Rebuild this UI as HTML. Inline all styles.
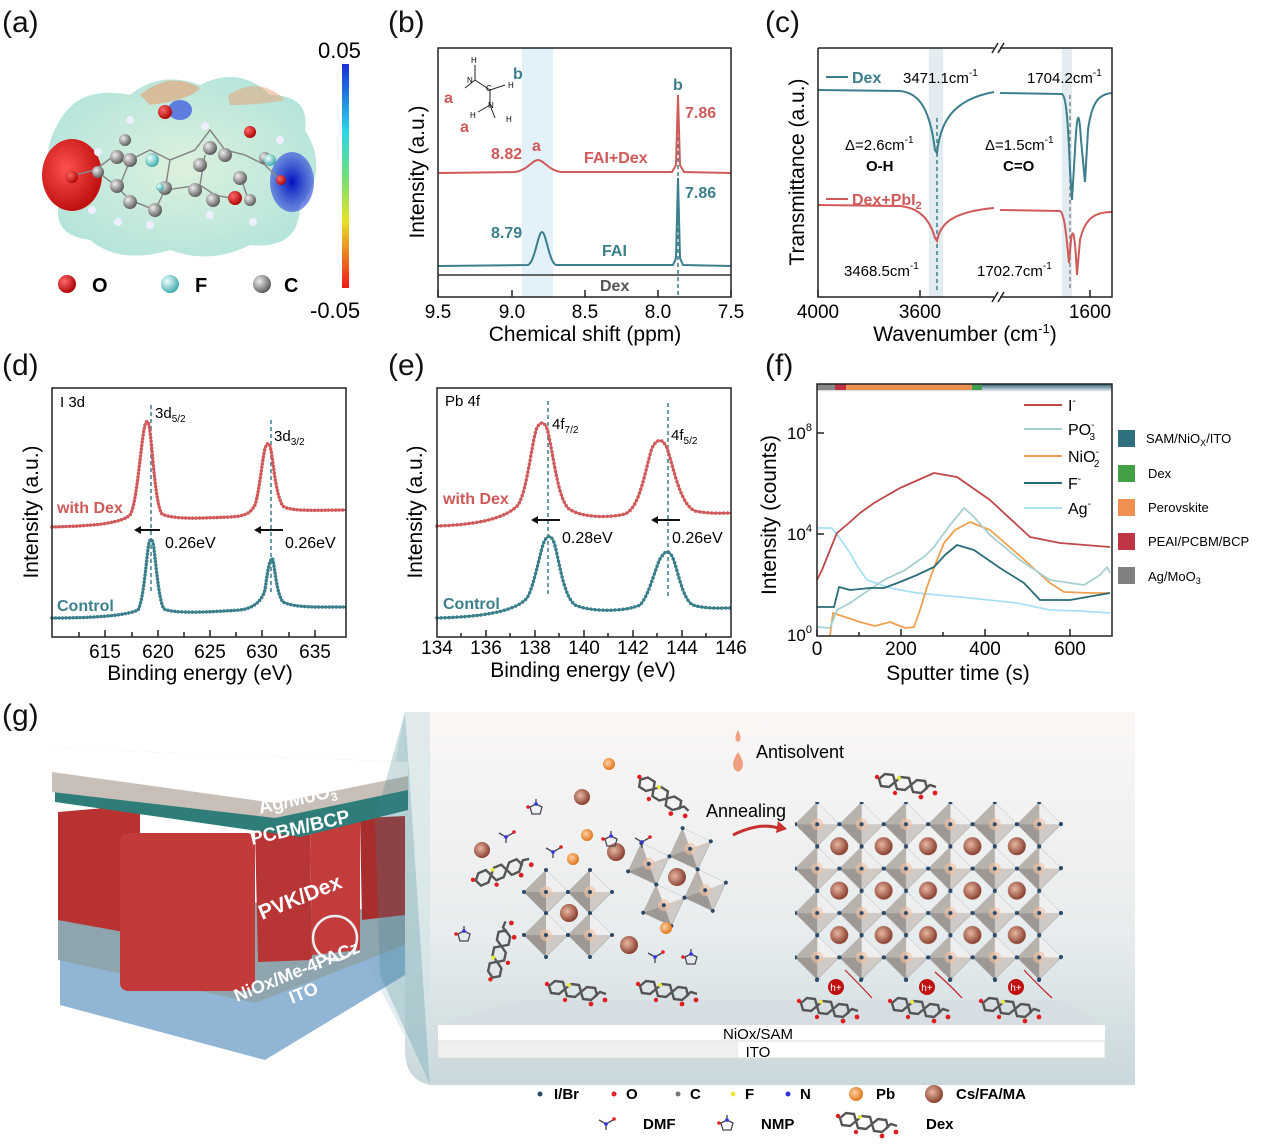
<!DOCTYPE html>
<html><head><meta charset="utf-8"><style>
html,body{margin:0;padding:0;background:#fff}
svg{display:block;font-family:"Liberation Sans",sans-serif}
</style></head><body>
<svg width="1266" height="1147" viewBox="0 0 1266 1147" xmlns="http://www.w3.org/2000/svg" xmlns:xlink="http://www.w3.org/1999/xlink">
<defs>
<linearGradient id="cb" x1="0" y1="0" x2="0" y2="1">
<stop offset="0" stop-color="#1a2fd8"/><stop offset="0.3" stop-color="#2ad6e8"/><stop offset="0.5" stop-color="#6fe07a"/><stop offset="0.7" stop-color="#e7e22a"/><stop offset="1" stop-color="#f11a1a"/></linearGradient>
<radialGradient id="blob" cx="0.5" cy="0.5" r="0.6"><stop offset="0" stop-color="#d9f0d8"/><stop offset="1" stop-color="#a9e0d8"/></radialGradient>
<radialGradient id="redl" cx="0.4" cy="0.4" r="0.6"><stop offset="0" stop-color="#ff5050"/><stop offset="1" stop-color="#c01010"/></radialGradient>
<radialGradient id="bluel" cx="0.5" cy="0.5" r="0.6"><stop offset="0" stop-color="#0010c0"/><stop offset="1" stop-color="#4a6ae0" stop-opacity="0.6"/></radialGradient>
<radialGradient id="ball" cx="0.35" cy="0.35" r="0.7"><stop offset="0" stop-color="#eee"/><stop offset="1" stop-color="#555"/></radialGradient>
<radialGradient id="rball" cx="0.35" cy="0.35" r="0.7"><stop offset="0" stop-color="#ff6a6a"/><stop offset="1" stop-color="#a00"/></radialGradient>
<radialGradient id="fball" cx="0.35" cy="0.35" r="0.7"><stop offset="0" stop-color="#f0ffff"/><stop offset="1" stop-color="#3aa8a8"/></radialGradient>
<radialGradient id="cs" cx="0.4" cy="0.4" r="0.6"><stop offset="0" stop-color="#e8b8a0"/><stop offset="1" stop-color="#8a4030"/></radialGradient>
<radialGradient id="pb" cx="0.4" cy="0.4" r="0.6"><stop offset="0" stop-color="#ffd0a0"/><stop offset="1" stop-color="#e07820"/></radialGradient>
<linearGradient id="bg" x1="0" y1="0" x2="0" y2="1"><stop offset="0" stop-color="#fbf7f5"/><stop offset="0.6" stop-color="#e7ecee"/><stop offset="1" stop-color="#c8d8dc"/></linearGradient>
<linearGradient id="topbar" x1="0" y1="0" x2="0" y2="1"><stop offset="0" stop-color="#2a5d6e"/><stop offset="1" stop-color="#fff"/></linearGradient>
<g id="oct">
<path d="M0,-22 L22,0 L0,22 L-22,0Z" fill="#cfcac6" stroke="#aaa" stroke-width="0.6"/>
<path d="M0,-22 L22,0 L0,0Z" fill="#efefef"/><path d="M0,0 L-22,0 L0,22Z" fill="#9d9894"/><path d="M0,-22 L-22,0 L0,0Z" fill="#b8b2ad"/>
<circle r="6" fill="#f0c0a0" opacity="0.6"/>
<circle cx="0" cy="-22" r="2" fill="#2a4a6a"/><circle cx="-22" cy="0" r="2" fill="#2a4a6a"/><circle cx="22" cy="0" r="2" fill="#2a4a6a"/><circle cx="0" cy="22" r="2" fill="#2a4a6a"/><circle r="2" fill="#2a4a6a"/>
</g>
<g id="dex" fill="none" stroke="#555" stroke-width="2.4">
<path d="M-28,-4 l6,-5 l8,1 l2,7 l-6,5 l-8,-1z M-12,-1 l6,-5 l8,1 l2,7 l-6,5 l-8,-1z M4,2 l6,-5 l8,1 l2,7 l-6,5 l-8,-1z M18,6 l5,-4 l6,2"/>
<circle cx="-8" cy="-5" r="2" fill="#e8e840" stroke="none"/><circle cx="-30" cy="-6" r="2.2" fill="#e02020" stroke="none"/><circle cx="28" cy="10" r="2.4" fill="#e02020" stroke="none"/><circle cx="14" cy="14" r="2.4" fill="#e02020" stroke="none"/><circle cx="-12" cy="10" r="2.2" fill="#e02020" stroke="none"/>
</g>
<g id="dmf" fill="none" stroke="#445" stroke-width="1.3"><path d="M-7,-2 l7,4 l7,-4 m-7,4 v6"/><circle cx="8" cy="-3" r="1.8" fill="#e02020" stroke="none"/><circle cx="0" cy="2" r="1.8" fill="#3030e0" stroke="none"/></g>
<g id="nmp" fill="none" stroke="#445" stroke-width="1.3"><path d="M-5,-3 l6,-3 l6,3 l-2,7 l-8,0z M1,-6 v-5"/><circle cx="-7" cy="-3" r="1.8" fill="#e02020" stroke="none"/><circle cx="1" cy="-6" r="1.8" fill="#3030e0" stroke="none"/></g>
<pattern id="octp" x="795" y="802" width="44.4" height="44.4" patternUnits="userSpaceOnUse"><use xlink:href="#oct" href="#oct" x="22.2" y="22.2"/></pattern>
<pattern id="csp" x="817" y="824" width="44.4" height="44.4" patternUnits="userSpaceOnUse"><circle cx="22.2" cy="22.2" r="9" fill="url(#cs)"/></pattern>
</defs>

<!-- panel labels -->
<g font-size="30" fill="#111">
<text x="2" y="32">(a)</text><text x="388" y="32">(b)</text><text x="765" y="32">(c)</text>
<text x="2" y="375">(d)</text><text x="388" y="375">(e)</text><text x="765" y="375">(f)</text>
<text x="2" y="725">(g)</text></g>

<!-- (a) -->
<g>
<path d="M60,120 Q80,85 130,95 Q160,70 200,85 Q240,65 270,95 Q310,95 305,130 Q330,170 300,205 Q300,250 250,245 Q210,265 170,250 Q120,265 90,240 Q50,235 60,200 Q35,160 60,120Z" fill="url(#blob)" opacity="0.9"/>
<path d="M140,95 Q170,70 200,88 Q190,100 150,105Z" fill="#e8a070" opacity="0.6"/>
<path d="M228,95 Q260,75 285,100 Q260,105 230,105Z" fill="#e8a070" opacity="0.5"/>
<ellipse cx="72" cy="175" rx="30" ry="36" fill="url(#redl)"/>
<ellipse cx="292" cy="182" rx="22" ry="30" fill="url(#bluel)"/>
<ellipse cx="180" cy="110" rx="12" ry="10" fill="#3050e0" opacity="0.7"/>
<g stroke="#888" stroke-width="1.5" fill="none"><path d="M75,175 L95,170 L115,155 L130,160 L150,150 L170,160 L195,150 L210,130 L225,150 L245,155 L265,165 L280,180 M95,170 L115,185 L130,200 L155,210 L165,190 L200,185 L215,195 L240,200 M130,160 L120,185 M170,160 L165,190 M200,185 L205,155 M240,175 L250,205"/></g>
<g fill="url(#ball)">
<circle cx="98" cy="172" r="6"/><circle cx="117" cy="157" r="7"/><circle cx="130" cy="160" r="7"/><circle cx="117" cy="186" r="7"/><circle cx="130" cy="202" r="7"/><circle cx="155" cy="210" r="7"/><circle cx="165" cy="188" r="7"/><circle cx="200" cy="165" r="7"/><circle cx="195" cy="190" r="7"/><circle cx="210" cy="148" r="7"/><circle cx="225" cy="155" r="7"/><circle cx="240" cy="178" r="7"/><circle cx="213" cy="200" r="7"/><circle cx="250" cy="200" r="6"/><circle cx="265" cy="158" r="6"/><circle cx="125" cy="140" r="6"/></g>
<g fill="url(#fball)"><circle cx="152" cy="160" r="7"/><circle cx="270" cy="160" r="6"/><circle cx="160" cy="187" r="4"/></g>
<g fill="#eef"><circle cx="98" cy="152" r="4"/><circle cx="130" cy="120" r="4"/><circle cx="118" cy="222" r="4"/><circle cx="150" cy="225" r="4"/><circle cx="205" cy="126" r="4"/><circle cx="210" cy="215" r="4"/><circle cx="253" cy="222" r="4"/><circle cx="92" cy="210" r="4"/><circle cx="280" cy="140" r="4"/></g>
<g fill="url(#rball)"><circle cx="72" cy="177" r="6"/><circle cx="165" cy="112" r="7"/><circle cx="250" cy="132" r="6"/><circle cx="235" cy="198" r="7"/><circle cx="281" cy="180" r="5"/></g>
<rect x="342" y="64" width="7" height="224" fill="url(#cb)"/>
<text x="318" y="58" font-size="22">0.05</text>
<text x="310" y="318" font-size="22">-0.05</text>
<circle cx="67" cy="284" r="9" fill="url(#rball)"/><text x="92" y="292" font-size="20" font-weight="bold">O</text>
<circle cx="170" cy="284" r="9" fill="url(#fball)"/><text x="195" y="292" font-size="20" font-weight="bold">F</text>
<circle cx="262" cy="284" r="9" fill="url(#ball)"/><text x="284" y="292" font-size="20" font-weight="bold">C</text>
</g>

<!-- (b) -->
<g>
<rect x="522" y="48" width="31" height="249" fill="#e3f1fb"/>
<line x1="678" y1="95" x2="678" y2="297" stroke="#3b7f8c" stroke-width="1.5" stroke-dasharray="4,3"/>
<path d="M438,173 L515,172 C528,170 532,160 538,160 C544,160 548,170 561,172 L672,172 L676,165 L678,95 L680,165 L684,172 L731,173" fill="none" stroke="#d05a5a" stroke-width="2"/>
<path d="M438,266 L528,265 C535,262 538,232 542,232 C546,232 549,262 556,265 L673,265 L676,258 L678,178 L680,258 L683,265 L731,266" fill="none" stroke="#3b7f8c" stroke-width="2"/>
<line x1="438" y1="275" x2="731" y2="275" stroke="#666" stroke-width="2"/>
<rect x="438" y="48" width="293" height="249" fill="none" stroke="#222" stroke-width="1.5"/>
<g stroke="#222" stroke-width="1.5"><line x1="438" y1="297" x2="438" y2="290"/><line x1="512" y1="297" x2="512" y2="290"/><line x1="585" y1="297" x2="585" y2="290"/><line x1="658" y1="297" x2="658" y2="290"/><line x1="731" y1="297" x2="731" y2="290"/></g>
<g font-size="19" text-anchor="middle"><text x="438" y="318">9.5</text><text x="512" y="318">9.0</text><text x="585" y="318">8.5</text><text x="658" y="318">8.0</text><text x="731" y="318">7.5</text>
<text x="585" y="341" font-size="21">Chemical shift (ppm)</text></g>
<text transform="translate(424,172) rotate(-90)" font-size="21" text-anchor="middle">Intensity (a.u.)</text>
<g font-size="16" font-weight="bold"><text x="685" y="118" fill="#d05a5a">7.86</text><text x="685" y="198" fill="#3b7f8c">7.86</text>
<text x="491" y="159" fill="#d05a5a">8.82</text><text x="532" y="151" fill="#d05a5a">a</text><text x="584" y="163" fill="#d05a5a">FAI+Dex</text>
<text x="491" y="238" fill="#3b7f8c">8.79</text><text x="602" y="256" fill="#3b7f8c">FAI</text><text x="600" y="291" fill="#555">Dex</text>
<text x="673" y="90" fill="#3b7f8c">b</text><text x="444" y="103" fill="#d05a5a">a</text><text x="460" y="132" fill="#d05a5a">a</text><text x="513" y="79" fill="#3b7f8c">b</text></g>
<g stroke="#222" stroke-width="1" fill="none"><path d="M475,65 L475,80 L490,90 L505,85 M490,90 L490,105 L495,118 M490,105 L478,112 M475,80 L465,88"/></g>
<g font-size="8"><text x="471" y="63">H</text><text x="467" y="83">N</text><text x="486" y="91">C</text><text x="488" y="108">N</text><text x="470" y="118">H</text><text x="506" y="122">H</text><text x="508" y="88">H</text></g>
</g>

<!-- (c) -->
<g>
<rect x="929" y="48" width="14" height="249" fill="#e3ecf0"/>
<rect x="1062" y="48" width="10" height="249" fill="#e3ecf0"/>
<line x1="937" y1="118" x2="937" y2="290" stroke="#3b7f8c" stroke-width="1.5" stroke-dasharray="4,3"/>
<line x1="1070" y1="95" x2="1070" y2="290" stroke="#888" stroke-width="1.5" stroke-dasharray="4,3"/>
<path d="M818,90 L900,91 C920,93 930,110 935,150 L937,153 C940,125 950,100 994,92 M1000,93 L1062,94 C1066,96 1068,120 1070,170 L1072,200 L1075,150 C1077,110 1079,108 1081,140 L1085,182 L1088,130 C1092,100 1100,94 1112,93" fill="none" stroke="#3b7f8c" stroke-width="2"/>
<path d="M818,205 L900,206 C920,208 930,220 935,238 L937,241 C940,225 950,212 994,208 M1000,210 L1060,211 C1064,213 1066,230 1069,263 L1071,240 C1073,225 1075,235 1077,275 L1080,240 C1085,218 1095,212 1112,212" fill="none" stroke="#d05a5a" stroke-width="2"/>
<path d="M818,48 V297 H994 M1000,297 H1112 V48 H1000 M994,48 H818" fill="none" stroke="#222" stroke-width="1.5"/>
<g stroke="#222" stroke-width="1.5"><line x1="992" y1="302" x2="998" y2="292"/><line x1="998" y1="302" x2="1004" y2="292"/><line x1="992" y1="53" x2="998" y2="43"/><line x1="998" y1="53" x2="1004" y2="43"/>
<line x1="818" y1="297" x2="818" y2="290"/><line x1="920" y1="297" x2="920" y2="290"/><line x1="1090" y1="297" x2="1090" y2="290"/></g>
<g font-size="19" text-anchor="middle"><text x="818" y="318">4000</text><text x="920" y="318">3600</text><text x="1090" y="318">1600</text>
<text x="965" y="341" font-size="21">Wavenumber (cm<tspan font-size="13" dy="-8">-1</tspan><tspan dy="8">)</tspan></text></g>
<text transform="translate(804,172) rotate(-90)" font-size="21" text-anchor="middle">Transmittance (a.u.)</text>
<line x1="826" y1="77" x2="848" y2="77" stroke="#3b7f8c" stroke-width="2"/><text x="852" y="83" font-size="16" font-weight="bold" fill="#3b7f8c">Dex</text>
<line x1="826" y1="199" x2="848" y2="199" stroke="#d05a5a" stroke-width="2"/><text x="852" y="205" font-size="16" font-weight="bold" fill="#d05a5a">Dex+PbI<tspan font-size="11" dy="4">2</tspan></text>
<g font-size="15"><text x="903" y="83">3471.1cm<tspan font-size="10" dy="-7">-1</tspan></text>
<text x="1027" y="83">1704.2cm<tspan font-size="10" dy="-7">-1</tspan></text>
<text x="845" y="150">Δ=2.6cm<tspan font-size="10" dy="-7">-1</tspan></text><text x="866" y="171" font-weight="bold">O-H</text>
<text x="985" y="150">Δ=1.5cm<tspan font-size="10" dy="-7">-1</tspan></text><text x="1003" y="171" font-weight="bold">C=O</text>
<text x="844" y="276">3468.5cm<tspan font-size="10" dy="-7">-1</tspan></text>
<text x="977" y="276">1702.7cm<tspan font-size="10" dy="-7">-1</tspan></text></g>
</g>

<!-- (d) -->
<g>
<line x1="151" y1="405" x2="151" y2="592" stroke="#3b7f8c" stroke-width="1.5" stroke-dasharray="4,3"/>
<line x1="271" y1="420" x2="271" y2="592" stroke="#3b7f8c" stroke-width="1.5" stroke-dasharray="4,3"/>
<g fill="none" stroke="#d05a5a"><path d="M52,527 C90,526 120,524 130,515 C137,505 141,440 145,425 Q147,418 149,425 C152,440 155,505 162,514 C175,520 200,518 230,517 C245,516 250,514 255,505 C260,490 263,450 266,446 Q268,441 270,446 C273,455 275,495 283,506 C290,512 320,510 346,510" stroke-width="2"/>
<path d="M52,527 C90,526 120,524 130,515 C137,505 141,440 145,425 Q147,418 149,425 C152,440 155,505 162,514 C175,520 200,518 230,517 C245,516 250,514 255,505 C260,490 263,450 266,446 Q268,441 270,446 C273,455 275,495 283,506 C290,512 320,510 346,510" stroke-width="3.5" stroke-dasharray="0 3.5" stroke-linecap="round"/></g>
<g fill="none" stroke="#3b7f8c"><path d="M52,618 C90,618 125,616 138,610 C144,600 147,550 149,543 Q151,536 153,543 C155,550 158,600 164,609 C175,614 210,612 240,610 C255,608 262,600 265,590 C267,575 269,562 271,560 Q272,557 273,560 C275,570 277,595 283,602 C295,608 320,607 346,607" stroke-width="2"/>
<path d="M52,618 C90,618 125,616 138,610 C144,600 147,550 149,543 Q151,536 153,543 C155,550 158,600 164,609 C175,614 210,612 240,610 C255,608 262,600 265,590 C267,575 269,562 271,560 Q272,557 273,560 C275,570 277,595 283,602 C295,608 320,607 346,607" stroke-width="3.5" stroke-dasharray="0 3.5" stroke-linecap="round"/></g>
<rect x="52" y="388" width="294" height="249" fill="none" stroke="#222" stroke-width="1.5"/>
<g stroke="#222" stroke-width="1.5"><line x1="79" y1="637" x2="79" y2="632"/><line x1="105" y1="637" x2="105" y2="630"/><line x1="132" y1="637" x2="132" y2="632"/><line x1="158" y1="637" x2="158" y2="630"/><line x1="184" y1="637" x2="184" y2="632"/><line x1="210" y1="637" x2="210" y2="630"/><line x1="236" y1="637" x2="236" y2="632"/><line x1="262" y1="637" x2="262" y2="630"/><line x1="289" y1="637" x2="289" y2="632"/><line x1="315" y1="637" x2="315" y2="630"/></g>
<g font-size="19" text-anchor="middle"><text x="105" y="658">615</text><text x="158" y="658">620</text><text x="210" y="658">625</text><text x="262" y="658">630</text><text x="315" y="658">635</text>
<text x="200" y="680" font-size="21">Binding energy (eV)</text></g>
<text transform="translate(38,512) rotate(-90)" font-size="21" text-anchor="middle">Intensity (a.u.)</text>
<text x="60" y="407" font-size="15">I 3d</text>
<text x="155" y="418" font-size="15">3d<tspan font-size="10" dy="4">5/2</tspan></text>
<text x="274" y="441" font-size="15">3d<tspan font-size="10" dy="4">3/2</tspan></text>
<g font-size="16" font-weight="bold"><text x="57" y="513" fill="#d05a5a">with Dex</text><text x="57" y="611" fill="#3b7f8c">Control</text></g>
<g stroke="#111" stroke-width="2"><line x1="138" y1="530" x2="160" y2="530"/><line x1="258" y1="530" x2="283" y2="530"/></g>
<path d="M134,530 l7,-4 v8z M254,530 l7,-4 v8z" fill="#111"/>
<g font-size="16"><text x="165" y="548">0.26eV</text><text x="285" y="548">0.26eV</text></g>
</g>

<!-- (e) -->
<g>
<line x1="548" y1="401" x2="548" y2="595" stroke="#3b7f8c" stroke-width="1.5" stroke-dasharray="4,3"/>
<line x1="668" y1="403" x2="668" y2="598" stroke="#3b7f8c" stroke-width="1.5" stroke-dasharray="4,3"/>
<g fill="none" stroke="#d05a5a"><path d="M437,526 C470,525 505,520 518,505 C528,490 533,430 538,426 Q542,420 546,426 C552,440 556,495 568,508 C580,518 610,518 625,514 C640,508 645,470 652,448 Q660,433 667,448 C673,465 680,505 695,511 C710,514 720,513 731,513" stroke-width="2"/>
<path d="M437,526 C470,525 505,520 518,505 C528,490 533,430 538,426 Q542,420 546,426 C552,440 556,495 568,508 C580,518 610,518 625,514 C640,508 645,470 652,448 Q660,433 667,448 C673,465 680,505 695,511 C710,514 720,513 731,513" stroke-width="3.5" stroke-dasharray="0 4" stroke-linecap="round"/></g>
<g fill="none" stroke="#3b7f8c"><path d="M437,618 C480,617 515,612 527,598 C535,585 541,545 545,540 Q549,533 553,540 C558,550 562,595 575,605 C590,612 625,612 640,605 C650,595 657,560 662,556 Q667,548 672,556 C677,565 682,600 693,605 C705,609 720,608 731,608" stroke-width="2"/>
<path d="M437,618 C480,617 515,612 527,598 C535,585 541,545 545,540 Q549,533 553,540 C558,550 562,595 575,605 C590,612 625,612 640,605 C650,595 657,560 662,556 Q667,548 672,556 C677,565 682,600 693,605 C705,609 720,608 731,608" stroke-width="3.5" stroke-dasharray="0 4" stroke-linecap="round"/></g>
<rect x="437" y="388" width="294" height="249" fill="none" stroke="#222" stroke-width="1.5"/>
<g stroke="#222" stroke-width="1.5"><line x1="486" y1="637" x2="486" y2="630"/><line x1="535" y1="637" x2="535" y2="630"/><line x1="584" y1="637" x2="584" y2="630"/><line x1="633" y1="637" x2="633" y2="630"/><line x1="682" y1="637" x2="682" y2="630"/><line x1="461" y1="637" x2="461" y2="633"/><line x1="510" y1="637" x2="510" y2="633"/><line x1="559" y1="637" x2="559" y2="633"/><line x1="608" y1="637" x2="608" y2="633"/><line x1="657" y1="637" x2="657" y2="633"/><line x1="706" y1="637" x2="706" y2="633"/></g>
<g font-size="19" text-anchor="middle"><text x="437" y="654">134</text><text x="486" y="654">136</text><text x="535" y="654">138</text><text x="584" y="654">140</text><text x="633" y="654">142</text><text x="682" y="654">144</text><text x="731" y="654">146</text></g>
<text x="583" y="677" font-size="21" text-anchor="middle">Binding energy (eV)</text>
<text transform="translate(422,512) rotate(-90)" font-size="21" text-anchor="middle">Intensity (a.u.)</text>
<text x="445" y="406" font-size="15">Pb 4f</text>
<text x="552" y="429" font-size="15">4f<tspan font-size="10" dy="4">7/2</tspan></text>
<text x="671" y="440" font-size="15">4f<tspan font-size="10" dy="4">5/2</tspan></text>
<g font-size="16" font-weight="bold"><text x="443" y="504" fill="#d05a5a">with Dex</text><text x="443" y="609" fill="#3b7f8c">Control</text></g>
<g stroke="#111" stroke-width="2"><line x1="535" y1="520" x2="560" y2="520"/><line x1="655" y1="520" x2="680" y2="520"/></g>
<path d="M531,520 l7,-4 v8z M651,520 l7,-4 v8z" fill="#111"/>
<g font-size="16"><text x="562" y="543">0.28eV</text><text x="672" y="543">0.26eV</text></g>
</g>

<!-- (f) -->
<g>
<rect x="817" y="384" width="295" height="8" fill="url(#topbar)"/>
<rect x="817" y="384" width="18" height="6" fill="#888"/><rect x="835" y="384" width="11" height="6" fill="#c03040"/><rect x="846" y="384" width="126" height="6" fill="#f09050"/><rect x="972" y="384" width="10" height="6" fill="#40a050"/>
<g fill="none" stroke-width="1.8" stroke-linejoin="round">
<path d="M817,528 L832,528 L841,540 L850,553 L858,567 L867,580 L890,588 L917,593 L960,597 L1017,603 L1050,610 L1080,611 L1110,613" stroke="#a8e0f8"/>
<path d="M830,636 L833,613 L845,617 L860,622 L875,626 L890,622 L905,628 L914,627 L920,610 L927,587 L935,565 L944,543 L955,530 L970,522 L990,530 L1020,556 L1050,583 L1064,592 L1090,593 L1110,593" stroke="#f0a050"/>
<path d="M817,627 L830,628 L837,610 L850,603 L866,592 L884,580 L905,570 L925,556 L934,547 L950,525 L964,508 L974,517 L990,535 L1020,560 L1050,580 L1084,585 L1100,575 L1107,567 L1110,573" stroke="#a8d0d0"/>
<path d="M817,607 L834,607 L839,587 L850,590 L870,588 L884,588 L900,582 L917,575 L934,567 L945,555 L957,545 L974,550 L1000,568 L1024,583 L1040,600 L1070,600 L1110,593" stroke="#2a6c78"/>
<path d="M817,580 L822,570 L830,550 L837,533 L850,522 L860,513 L874,503 L900,488 L934,473 L957,477 L990,500 L1030,537 L1060,543 L1110,547" stroke="#c04848"/>
</g>
<rect x="817" y="384" width="295" height="252" fill="none" stroke="#222" stroke-width="1.5"/>
<g stroke="#222" stroke-width="1.5"><line x1="817" y1="636" x2="817" y2="629"/><line x1="901" y1="636" x2="901" y2="629"/><line x1="985" y1="636" x2="985" y2="629"/><line x1="1070" y1="636" x2="1070" y2="629"/><line x1="859" y1="636" x2="859" y2="632"/><line x1="943" y1="636" x2="943" y2="632"/><line x1="1028" y1="636" x2="1028" y2="632"/>
<line x1="817" y1="433" x2="824" y2="433"/><line x1="817" y1="534" x2="824" y2="534"/></g>
<g font-size="19" text-anchor="middle"><text x="817" y="655">0</text><text x="901" y="655">200</text><text x="985" y="655">400</text><text x="1070" y="655">600</text>
<text x="958" y="680" font-size="21">Sputter time (s)</text></g>
<g font-size="17" text-anchor="end"><text x="812" y="439">10<tspan font-size="11" dy="-8">8</tspan></text><text x="812" y="540">10<tspan font-size="11" dy="-8">4</tspan></text><text x="812" y="641">10<tspan font-size="11" dy="-8">0</tspan></text></g>
<text transform="translate(776,515) rotate(-90)" font-size="21" text-anchor="middle">Intensity (counts)</text>
<g stroke-width="2"><line x1="1024" y1="405" x2="1062" y2="405" stroke="#c04848"/><line x1="1024" y1="429" x2="1062" y2="429" stroke="#a8d0d0"/><line x1="1024" y1="456" x2="1062" y2="456" stroke="#f0a050"/><line x1="1024" y1="483" x2="1062" y2="483" stroke="#2a6c78"/><line x1="1024" y1="508" x2="1062" y2="508" stroke="#a8e0f8"/></g>
<g font-size="16"><text x="1068" y="411">I<tspan font-size="10" dy="-7">-</tspan></text><text x="1068" y="435">PO<tspan font-size="10" dy="-7">-</tspan><tspan font-size="10" dx="-5" dy="12">3</tspan></text><text x="1068" y="462">NiO<tspan font-size="10" dy="-7">-</tspan><tspan font-size="10" dx="-5" dy="12">2</tspan></text><text x="1068" y="489">F<tspan font-size="10" dy="-7">-</tspan></text><text x="1068" y="514">Ag<tspan font-size="10" dy="-7">-</tspan></text></g>
<g font-size="13"><rect x="1118" y="430" width="17" height="17" fill="#2f6f80"/><text x="1146" y="443">SAM/NiO<tspan font-size="9" dy="3">X</tspan><tspan dy="-3">/ITO</tspan></text>
<rect x="1118" y="465" width="17" height="17" fill="#43a047"/><text x="1148" y="478">Dex</text>
<rect x="1118" y="499" width="17" height="17" fill="#f09050"/><text x="1148" y="512">Perovskite</text>
<rect x="1118" y="533" width="17" height="17" fill="#c03545"/><text x="1148" y="546">PEAI/PCBM/BCP</text>
<rect x="1118" y="567" width="17" height="17" fill="#808080"/><text x="1148" y="581">Ag/MoO<tspan font-size="9" dy="3">3</tspan></text></g>
</g>

<!-- (g) right panel -->
<g>
<path d="M405,712 H1135 V1085 H430 Q405,1080 405,1050Z" fill="url(#bg)"/>
<path d="M405,712 L380,840 L360,950 L430,1085 L430,712Z" fill="#d0e2e6" opacity="0.6"/>
<path d="M440,1025 L520,1000 L1060,1000 L1105,1025Z" fill="#d5dde2" opacity="0.7"/>
<rect x="438" y="1025" width="667" height="16" fill="#fff"/>
<rect x="438" y="1041" width="667" height="17" fill="#fff" stroke="#ddd"/>
<rect x="438" y="1041" width="300" height="17" fill="#e8e8e8" opacity="0.7"/>
<g font-size="15" text-anchor="middle"><text x="758" y="1039">NiOx/SAM</text><text x="758" y="1057">ITO</text></g>
<text x="756" y="758" font-size="18">Antisolvent</text>
<path d="M738,730 q-5,10 0,12 q5,-2 0,-12z M738,752 q-10,15 0,20 q10,-5 0,-20z" fill="#f0a080"/>
<text x="706" y="817" font-size="18">Annealing</text>
<path d="M733,835 Q760,822 778,828" fill="none" stroke="#c83030" stroke-width="3"/><path d="M778,821 l9,8 l-11,4z" fill="#c83030"/>
<rect x="795" y="802" width="266.4" height="177.6" fill="url(#octp)"/>
<rect x="817.2" y="824.2" width="222" height="133.2" fill="url(#csp)"/>
<g fill="#2a4a6a"><circle cx="1061" cy="824" r="2"/><circle cx="1061" cy="868" r="2"/><circle cx="1061" cy="913" r="2"/><circle cx="1061" cy="957" r="2"/>
<circle cx="817" cy="980" r="2"/><circle cx="861" cy="980" r="2"/><circle cx="906" cy="980" r="2"/><circle cx="950" cy="980" r="2"/><circle cx="995" cy="980" r="2"/><circle cx="1039" cy="980" r="2"/></g>
<use href="#dex" xlink:href="#dex" x="907" y="783"/>
<use href="#dex" xlink:href="#dex" x="829" y="1007"/><use href="#dex" xlink:href="#dex" x="920" y="1007"/><use href="#dex" xlink:href="#dex" x="1011" y="1007"/>
<g font-size="10" fill="#fff" text-anchor="middle">
<circle cx="836" cy="987" r="8" fill="#c01010"/><text x="836" y="991">h+</text>
<circle cx="927" cy="987" r="8" fill="#c01010"/><text x="927" y="991">h+</text>
<circle cx="1016" cy="987" r="8" fill="#c01010"/><text x="1016" y="991">h+</text></g>
<g fill="none" stroke="#c02020" stroke-width="1.2"><path d="M845,970 Q860,985 872,998"/><path d="M935,972 Q950,985 962,998"/><path d="M1024,970 Q1038,985 1052,998"/></g>
<use href="#oct" xlink:href="#oct" x="546" y="892"/><use href="#oct" xlink:href="#oct" x="590" y="892"/><use href="#oct" xlink:href="#oct" x="546" y="935"/><use href="#oct" xlink:href="#oct" x="590" y="935"/>
<circle cx="569" cy="913" r="9" fill="url(#cs)"/>
<g transform="translate(677,877) rotate(-20)"><use href="#oct" xlink:href="#oct" x="-22" y="-22"/><use href="#oct" xlink:href="#oct" x="22" y="-22"/><use href="#oct" xlink:href="#oct" x="-22" y="22"/><use href="#oct" xlink:href="#oct" x="22" y="22"/><circle r="9" fill="url(#cs)"/></g>
<g fill="url(#cs)"><circle cx="582" cy="797" r="8"/><circle cx="482" cy="850" r="8"/><circle cx="616" cy="852" r="9"/><circle cx="629" cy="945" r="9"/></g>
<g fill="url(#pb)"><circle cx="609" cy="764" r="6"/><circle cx="587" cy="835" r="6"/><circle cx="573" cy="859" r="6"/><circle cx="666" cy="928" r="6"/></g>
<use href="#dex" xlink:href="#dex" transform="translate(664,795) rotate(25)"/>
<use href="#dex" xlink:href="#dex" transform="translate(502,870) rotate(-30)"/>
<use href="#dex" xlink:href="#dex" transform="translate(499,950) rotate(-85)"/>
<use href="#dex" xlink:href="#dex" x="577" y="990"/><use href="#dex" xlink:href="#dex" x="668" y="990"/>
<use href="#dmf" xlink:href="#dmf" x="506" y="835"/><use href="#dmf" xlink:href="#dmf" x="553" y="850"/><use href="#dmf" xlink:href="#dmf" x="642" y="840"/><use href="#dmf" xlink:href="#dmf" x="655" y="955"/>
<use href="#nmp" xlink:href="#nmp" x="535" y="810"/><use href="#nmp" xlink:href="#nmp" x="610" y="842"/><use href="#nmp" xlink:href="#nmp" x="463" y="937"/><use href="#nmp" xlink:href="#nmp" x="690" y="960"/>
<g font-size="15" font-weight="bold">
<circle cx="540" cy="1094" r="2.5" fill="#2a4a6a"/><text x="554" y="1099">I/Br</text>
<circle cx="614" cy="1094" r="2.5" fill="#e02020"/><text x="626" y="1099">O</text>
<circle cx="678" cy="1094" r="2.5" fill="#777"/><text x="690" y="1099">C</text>
<circle cx="733" cy="1094" r="2.5" fill="#e8e840"/><text x="745" y="1099">F</text>
<circle cx="788" cy="1094" r="2.5" fill="#3030e0"/><text x="800" y="1099">N</text>
<circle cx="856" cy="1094" r="7" fill="url(#pb)"/><text x="876" y="1099">Pb</text>
<circle cx="934" cy="1094" r="9" fill="url(#cs)"/><text x="956" y="1099">Cs/FA/MA</text>
<text x="643" y="1129">DMF</text><text x="761" y="1129">NMP</text><text x="926" y="1129">Dex</text></g>
<use href="#dmf" xlink:href="#dmf" x="606" y="1122"/><use href="#nmp" xlink:href="#nmp" x="726" y="1126"/><use href="#dex" xlink:href="#dex" x="868" y="1122"/>
</g>

<!-- (g) left stack -->
<g>
<path d="M60,920 L405,940 L405,975 L265,1060 L60,1005Z" fill="#7ea8cc" opacity="0.85"/>
<path d="M58,890 L405,912 L405,945 L255,1003 L58,960Z" fill="#8fa5ae"/>
<path d="M58,812 L140,805 L140,935 L58,920Z" fill="#b83232"/>
<path d="M255,830 L310,825 L312,960 L258,962Z" fill="#b83535"/>
<path d="M310,825 L360,820 L360,950 L312,955Z" fill="#c33c3c"/>
<path d="M360,818 L405,816 L405,915 L362,920Z" fill="#a82e2e"/>
<rect x="120" y="833" width="135" height="158" rx="8" fill="#c23a3a"/>
<path d="M55,778 L408,790 L408,810 L300,837 L55,802Z" fill="#2f7d78"/>
<path d="M52,748 L408,762 L408,790 L275,818 L52,792Z" fill="#c8c0b8"/>
<path d="M52,748 L408,762 L408,776 L275,803 L52,772Z" fill="#ffffff"/>
<circle cx="335" cy="938" r="22" fill="none" stroke="#eee" stroke-width="2.5"/>
<path d="M375,820 L405,712 L430,1085 L380,975Z" fill="#3a7f8a" opacity="0.25"/>
<g fill="#fff" font-weight="bold" font-size="19">
<text transform="translate(260,814) rotate(-13)">Ag/MoO<tspan font-size="12" dy="4">3</tspan></text>
<text transform="translate(252,845) rotate(-13)">PCBM/BCP</text>
<text transform="translate(262,920) rotate(-22)" font-size="21">PVK/Dex</text>
<text transform="translate(237,1002) rotate(-22)" font-size="18">NiOx/Me-4PACz</text>
<text transform="translate(292,1004) rotate(-22)" font-size="18">ITO</text></g>
</g>
</svg>
</body></html>
